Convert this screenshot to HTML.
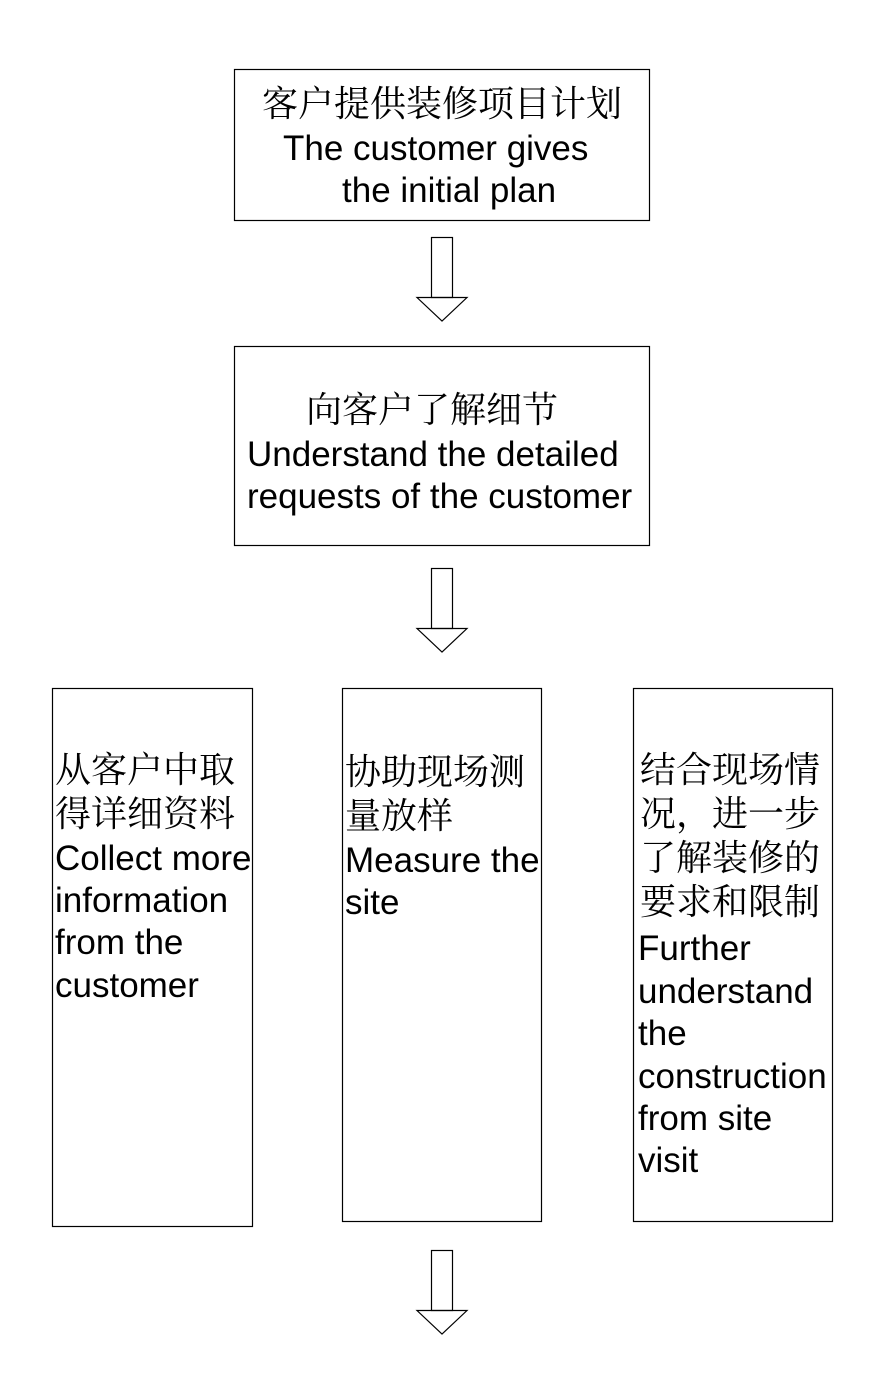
<!DOCTYPE html>
<html><head><meta charset="utf-8"><style>
html,body{margin:0;padding:0;background:#fff;}
svg{display:block;}
.cn{font-family:"Liberation Serif","Noto Serif CJK SC",serif;font-size:36px;fill:#000;}
.en{font-family:"Liberation Sans","Noto Sans CJK SC",sans-serif;font-size:35px;fill:#000;}
</style></head><body>
<svg width="874" height="1384" viewBox="0 0 874 1384" xmlns="http://www.w3.org/2000/svg">
<g fill="none" stroke="#000" stroke-width="1.2">
<rect x="234.5" y="69.5" width="415" height="151"/>
<rect x="234.5" y="346.5" width="415" height="199"/>
<rect x="52.5" y="688.5" width="200" height="538"/>
<rect x="342.5" y="688.5" width="199" height="533"/>
<rect x="633.5" y="688.5" width="199" height="533"/>
<g id="a1">
<rect x="431.5" y="237.5" width="21" height="60"/>
<polygon points="417,297.5 467,297.5 442,321"/>
</g>
<g transform="translate(0,331)">
<rect x="431.5" y="237.5" width="21" height="60"/>
<polygon points="417,297.5 467,297.5 442,321"/>
</g>
<g transform="translate(0,1013)">
<rect x="431.5" y="237.5" width="21" height="60"/>
<polygon points="417,297.5 467,297.5 442,321"/>
</g>
</g>
<text class="cn" x="262" y="116">客户提供装修项目计划</text>
<text class="en" x="283" y="160">The customer gives</text>
<text class="en" x="342" y="202">the initial plan</text>

<text class="cn" x="306" y="422">向客户了解细节</text>
<text class="en" x="247" y="466">Understand the detailed</text>
<text class="en" x="247" y="508">requests of the customer</text>

<text class="cn" x="55" y="782">从客户中取</text>
<text class="cn" x="55" y="826">得详细资料</text>
<text class="en" x="55" y="870">Collect more</text>
<text class="en" x="55" y="912">information</text>
<text class="en" x="55" y="954">from the</text>
<text class="en" x="55" y="997">customer</text>

<text class="cn" x="345" y="784">协助现场测</text>
<text class="cn" x="345" y="828">量放样</text>
<text class="en" x="345" y="872">Measure the</text>
<text class="en" x="345" y="914">site</text>

<text class="cn" x="640" y="782">结合现场情</text>
<text class="cn" x="640" y="826">况，进一步</text>
<text class="cn" x="640" y="870">了解装修的</text>
<text class="cn" x="640" y="914">要求和限制</text>
<text class="en" x="638" y="960">Further</text>
<text class="en" x="638" y="1003">understand</text>
<text class="en" x="638" y="1045">the</text>
<text class="en" x="638" y="1088">construction</text>
<text class="en" x="638" y="1130">from site</text>
<text class="en" x="638" y="1172">visit</text>
</svg>
</body></html>
